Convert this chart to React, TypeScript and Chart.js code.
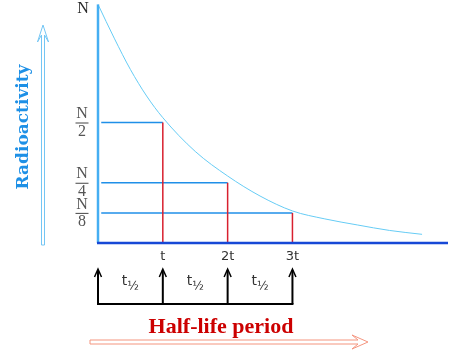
import React, { useEffect, useRef } from 'react';
import { Chart, registerables } from 'chart.js';

Chart.register(...registerables);

// ---- data ----
const curveT = [0, 0.25, 0.5, 0.75, 1, 1.5, 2, 2.5, 3, 3.5, 4, 4.5, 5];
const curveN = [0.99, 0.85, 0.72, 0.61, 0.52, 0.38, 0.278, 0.195, 0.133, 0.1, 0.075, 0.052, 0.036];
const halfLifeT = [1, 2, 3];
const halfLifeN = [0.5, 0.25, 0.125];
const xTickLabels = ['t', '2t', '3t'];
const yTickDenominators = ['2', '4', '8'];
const yTickNumerator = 'N';
const topLabel = 'N';
const periodMarks = [0, 1, 2, 3];
const periodLabel = 't';
const periodSub = '\u00BD';
const xTitle = 'Half-life period';
const yTitle = 'Radioactivity';

const decor = {
  id: 'decor',
  afterDraw(chart: any) {
    const { ctx, chartArea: a, scales } = chart;
    const xs = scales.x;
    const ys = scales.y;
    const seg = (x1: number, y1: number, x2: number, y2: number) => {
      ctx.beginPath();
      ctx.moveTo(x1, y1);
      ctx.lineTo(x2, y2);
      ctx.stroke();
    };
    ctx.save();

    // axes
    ctx.lineCap = 'butt';
    ctx.strokeStyle = '#45aef2';
    ctx.lineWidth = 2.5;
    seg(a.left, ys.getPixelForValue(curveN[0]), a.left, a.bottom);
    ctx.strokeStyle = '#1748d6';
    ctx.lineWidth = 2.5;
    seg(a.left - 1, a.bottom, a.right, a.bottom);

    // top label N
    ctx.fillStyle = '#2a2a2a';
    ctx.font = '16px "Liberation Serif"';
    ctx.textAlign = 'center';
    ctx.textBaseline = 'middle';
    ctx.fillText(topLabel, a.left - 15, ys.getPixelForValue(curveN[0]) + 4);

    // fraction y labels
    const fx = a.left - 16;
    halfLifeN.forEach((v, i) => {
      const py = ys.getPixelForValue(v);
      ctx.fillStyle = '#555';
      ctx.font = '16px "Liberation Serif"';
      ctx.fillText(yTickNumerator, fx, py - 8.5);
      ctx.fillText(yTickDenominators[i], fx, py + 9);
      ctx.strokeStyle = '#444';
      ctx.lineWidth = 1;
      seg(fx - 6.5, py + 0.5, fx + 6.5, py + 0.5);
    });

    // x tick labels
    ctx.fillStyle = '#333';
    ctx.font = '13px "DejaVu Sans"';
    halfLifeT.forEach((t, i) => {
      ctx.fillText(xTickLabels[i], xs.getPixelForValue(t), a.bottom + 13.5);
    });

    // period arrows
    ctx.strokeStyle = '#000';
    ctx.lineWidth = 2;
    const base = a.bottom + 61;
    const tip = a.bottom + 26;
    periodMarks.forEach((p) => {
      const x = xs.getPixelForValue(p);
      seg(x, base, x, tip + 1);
      ctx.lineWidth = 1.5;
      ctx.beginPath();
      ctx.moveTo(x - 3.5, tip + 8);
      ctx.lineTo(x, tip);
      ctx.lineTo(x + 3.5, tip + 8);
      ctx.stroke();
      ctx.lineWidth = 2;
    });
    ctx.lineCap = 'square';
    seg(xs.getPixelForValue(periodMarks[0]), base, xs.getPixelForValue(periodMarks[periodMarks.length - 1]), base);
    ctx.lineCap = 'butt';

    // t1/2 labels
    ctx.fillStyle = '#333';
    ctx.textAlign = 'left';
    ctx.textBaseline = 'alphabetic';
    for (let i = 0; i < periodMarks.length - 1; i++) {
      const cx = (xs.getPixelForValue(periodMarks[i]) + xs.getPixelForValue(periodMarks[i + 1])) / 2;
      ctx.font = '14px "DejaVu Sans"';
      const w1 = ctx.measureText(periodLabel).width;
      ctx.font = '12px "DejaVu Sans"';
      const w2 = ctx.measureText(periodSub).width;
      const sx = cx - (w1 + w2) / 2;
      ctx.font = '14px "DejaVu Sans"';
      ctx.fillText(periodLabel, sx, a.bottom + 42);
      ctx.font = '12px "DejaVu Sans"';
      ctx.fillText(periodSub, sx + w1, a.bottom + 47);
    }

    // x title
    ctx.fillStyle = '#cc0000';
    ctx.font = 'bold 22px "Liberation Serif"';
    ctx.textAlign = 'center';
    ctx.textBaseline = 'middle';
    ctx.fillText(xTitle, a.left + 123, a.bottom + 84);

    // y title
    ctx.save();
    ctx.translate(a.left - 74, a.top + 125);
    ctx.rotate(-Math.PI / 2);
    ctx.fillStyle = '#1e90e6';
    ctx.font = 'bold 17px "DejaVu Serif"';
    ctx.fillText(yTitle, 0, 0);
    ctx.restore();

    // hollow arrow (x)
    ctx.strokeStyle = '#f4957f';
    ctx.lineWidth = 1;
    const hy = a.bottom + 99;
    const hl = a.left - 8;
    const hr = a.left + 270;
    ctx.beginPath();
    ctx.moveTo(hl, hy - 2);
    ctx.lineTo(hr - 10, hy - 2);
    ctx.lineTo(hr - 16, hy - 7);
    ctx.lineTo(hr, hy);
    ctx.lineTo(hr - 16, hy + 7);
    ctx.lineTo(hr - 10, hy + 2);
    ctx.lineTo(hl, hy + 2);
    ctx.closePath();
    ctx.stroke();

    // hollow arrow (y)
    ctx.strokeStyle = '#74c6f4';
    const vx = a.left - 55;
    const vb = a.bottom + 2;
    const vt = a.top + 23;
    ctx.beginPath();
    ctx.moveTo(vx - 1.5, vb);
    ctx.lineTo(vx - 1.5, vt + 10);
    ctx.lineTo(vx - 5.5, vt + 17);
    ctx.lineTo(vx, vt);
    ctx.lineTo(vx + 5.5, vt + 17);
    ctx.lineTo(vx + 1.5, vt + 10);
    ctx.lineTo(vx + 1.5, vb);
    ctx.closePath();
    ctx.stroke();

    ctx.restore();
  },
};

export default function App() {
  const ref = useRef<HTMLCanvasElement | null>(null);
  useEffect(() => {
    if (!ref.current) return;
    const datasets: any[] = [];
    halfLifeT.forEach((t, i) => {
      datasets.push({
        data: [{ x: t, y: halfLifeN[i] }, { x: t, y: 0 }],
        borderColor: '#d8202f',
        borderWidth: 1.5,
        pointRadius: 0,
        showLine: true,
        order: 1,
      });
      datasets.push({
        data: [{ x: 0.05, y: halfLifeN[i] }, { x: t, y: halfLifeN[i] }],
        borderColor: '#1f8fe8',
        borderWidth: 1.5,
        pointRadius: 0,
        showLine: true,
        order: 2,
      });
    });
    datasets.push({
      data: curveT.map((t, i) => ({ x: t, y: curveN[i] })),
      borderColor: '#66ccf5',
      borderWidth: 1,
      pointRadius: 0,
      showLine: true,
      cubicInterpolationMode: 'monotone',
      order: 0,
    });
    const chart = new Chart(ref.current, {
      type: 'scatter',
      data: { datasets },
      options: {
        animation: false,
        responsive: false,
        events: [],
        layout: { padding: { left: 98, right: 20, top: 2, bottom: 109 } },
        plugins: { legend: { display: false }, tooltip: { enabled: false } },
        scales: {
          x: { type: 'linear', min: 0, max: 5.4, display: false },
          y: { min: 0, max: 1, display: false },
        },
      },
      plugins: [decor],
    });
    return () => chart.destroy();
  }, []);
  return (
    <div style={{ position: 'fixed', left: 0, top: 0, width: 468, height: 352, background: '#fff' }}>
      <canvas ref={ref} width={468} height={352} />
    </div>
  );
}
